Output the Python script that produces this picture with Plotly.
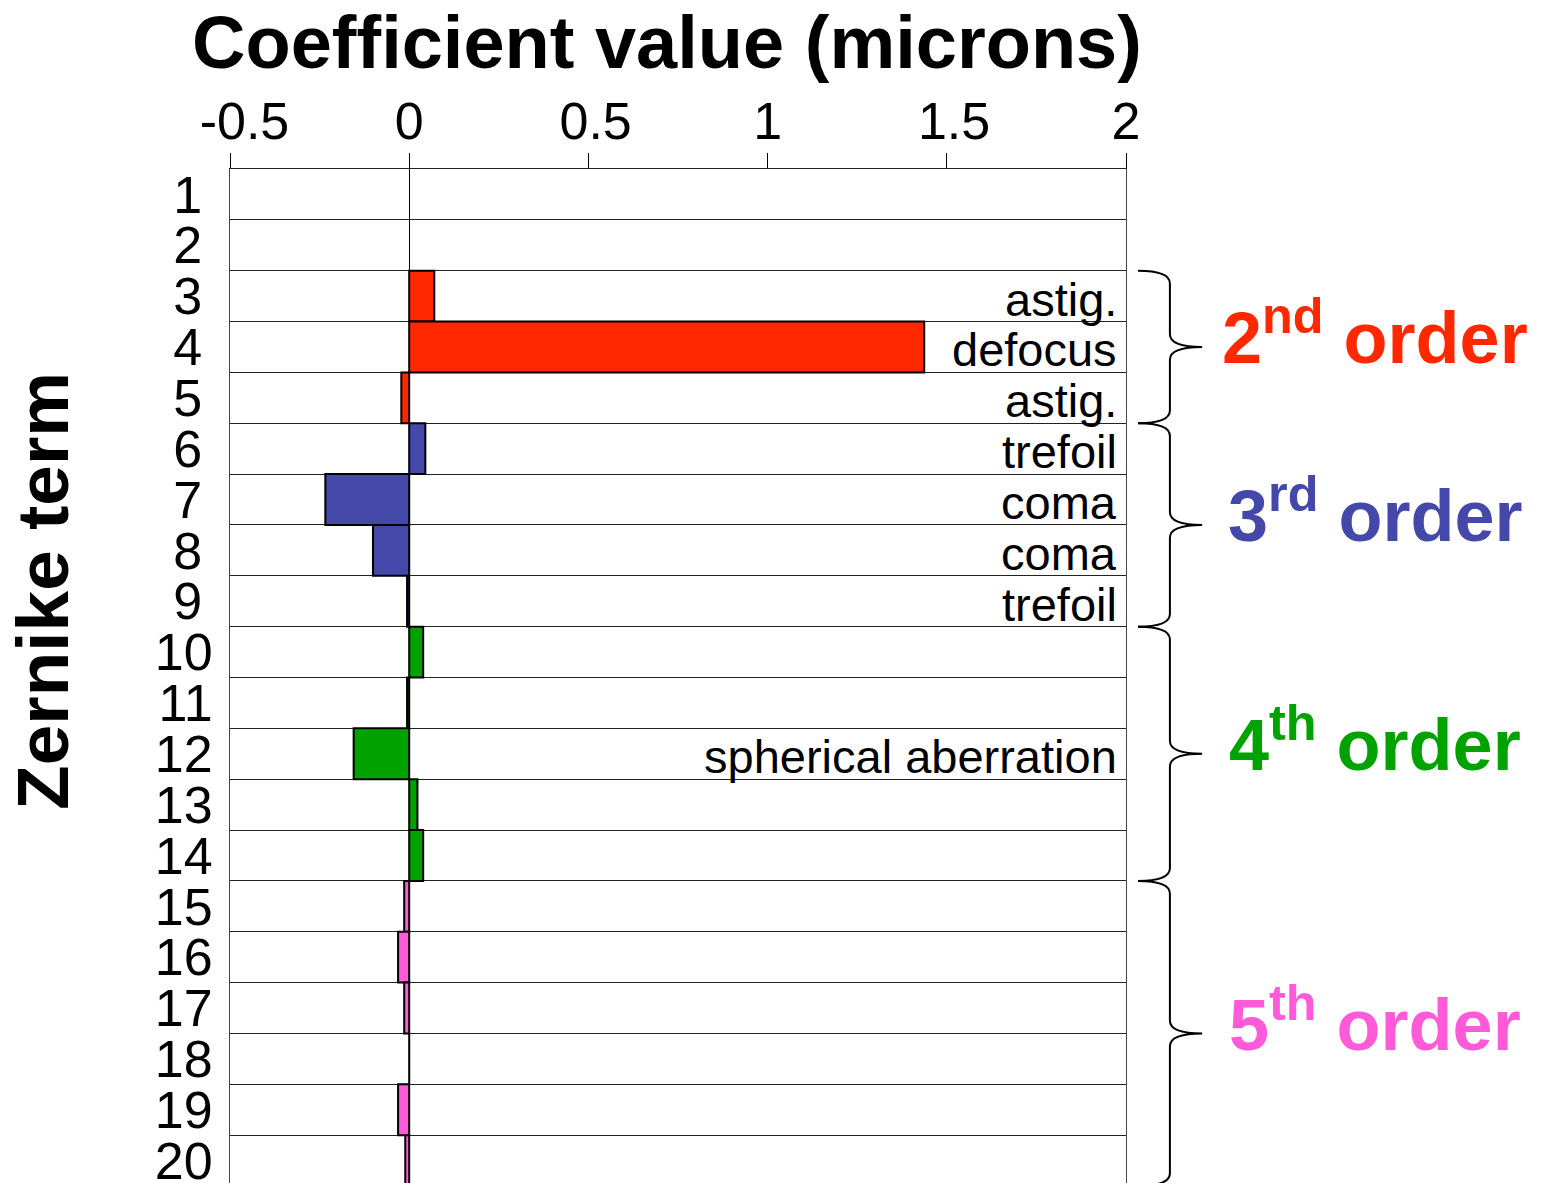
import plotly.graph_objects as go

# Zernike coefficients (microns), terms 1..20 top to bottom
terms = list(range(1, 21))
coefficients = [None, None, 0.070, 1.437, -0.022, 0.045, -0.234, -0.101, -0.006, 0.039,
                -0.006, -0.155, 0.023, 0.039, -0.014, -0.031, -0.014, 0.0, -0.031, -0.011]
term_order = [1, 1, 2, 2, 2, 3, 3, 3, 3, 4, 4, 4, 4, 4, 5, 5, 5, 5, 5, 5]

order_colors = {1: "#888888", 2: "#FF2800", 3: "#4448A8", 4: "#00A200", 5: "#FF5AD8"}
order_names = {2: "2<sup>nd</sup> order", 3: "3<sup>rd</sup> order",
               4: "4<sup>th</sup> order", 5: "5<sup>th</sup> order"}

label_terms = [3, 4, 5, 6, 7, 8, 9, 12]
label_texts = ["astig.", "defocus", "astig.", "trefoil", "coma", "coma", "trefoil",
               "spherical aberration"]

x_ticks = [-0.5, 0, 0.5, 1, 1.5, 2]
x_tick_text = ["-0.5", "0", "0.5", "1", "1.5", "2"]

NBSP = "\u00a0"
# the original labels sit a little right of their ticks; pad the longer ones
x_tick_shown = [NBSP * 2 + s if s.startswith("-") else (NBSP + s if "." in s else s)
                for s in x_tick_text]
# single digits padded with a thin space so the labels sit centred
y_tick_text = [str(t) if t >= 10 else str(t) + "\u2009" for t in terms]

FONT = "Arial, Liberation Sans, sans-serif"

fig = go.Figure()
fig.add_trace(go.Bar(
    x=coefficients, y=terms, orientation="h", width=1,
    marker=dict(color=[order_colors[o] for o in term_order],
                line=dict(color="black", width=2)),
    showlegend=False,
))

# term labels inside the plot
for t, txt in zip(label_terms, label_texts):
    fig.add_annotation(x=0.992, xref="paper", y=t, yref="y", text=txt, showarrow=False,
                       xanchor="right", yanchor="middle", yshift=-3,
                       font=dict(family=FONT, size=47, color="black"))

# braces and order labels
for order in [2, 3, 4, 5]:
    members = [t for t, o in zip(terms, term_order) if o == order]
    top = members[0] - 0.5
    bot = members[-1] + 0.5
    tip = (top + bot) / 2
    r = 0.25
    x0, xm, xt = 1.0134, 1.049, 1.085
    path = (f"M {x0},{top} Q {xm},{top} {xm},{top + r} L {xm},{tip - r} "
            f"Q {xm},{tip} {xt},{tip} Q {xm},{tip} {xm},{tip + r} "
            f"L {xm},{bot - r} Q {xm},{bot} {x0},{bot}")
    fig.add_shape(type="path", path=path, xref="paper", yref="y",
                  line=dict(color="black", width=2))
    fig.add_annotation(x=1.278, xref="paper", y=tip, yref="y",
                       text="<b>" + order_names[order] + "</b>",
                       showarrow=False, xanchor="center", yanchor="middle", yshift=14,
                       font=dict(family=FONT, size=72, color=order_colors[order]))

fig.add_annotation(x=-0.21, xref="paper", y=0.585, yref="paper", text="<b>Zernike term</b>",
                   textangle=-90, showarrow=False, xanchor="center", yanchor="middle",
                   font=dict(family=FONT, size=73, color="black"))

fig.update_layout(
    width=1544, height=1183,
    margin=dict(l=222, r=426, t=161, b=1),
    paper_bgcolor="white", plot_bgcolor="white",
    font=dict(family=FONT, color="black"),
    title=dict(text="<b>Coefficient value (microns)</b>", x=0.4877, xref="paper",
               xanchor="center", y=0.971, yref="container", yanchor="middle",
               font=dict(family=FONT, size=74, color="black")),
    xaxis=dict(side="top", range=[-0.5, 2], tickvals=x_ticks, ticktext=x_tick_shown,
               ticks="outside", ticklen=15, tickcolor="black", tickwidth=1,
               tickfont=dict(size=52, color="black"), ticklabelstandoff=-7,
               ticklabeloverflow="allow",
               showgrid=False, zeroline=True, zerolinecolor="black", zerolinewidth=1,
               showline=True, linecolor="#222222", linewidth=1, mirror=True),
    yaxis=dict(range=[20.5, 0.5], tickvals=terms, ticktext=y_tick_text,
               ticks="", tickfont=dict(size=52, color="black"), ticklabelstandoff=6,
               ticklabeloverflow="allow",
               showgrid=False, zeroline=False,
               showline=True, linecolor="#444444", linewidth=1, mirror=True,
               minor=dict(tickmode="array", tickvals=[t + 0.5 for t in terms],
                          showgrid=True, gridcolor="#222222", gridwidth=1, ticks="")),
)

fig.write_html("out.html")
